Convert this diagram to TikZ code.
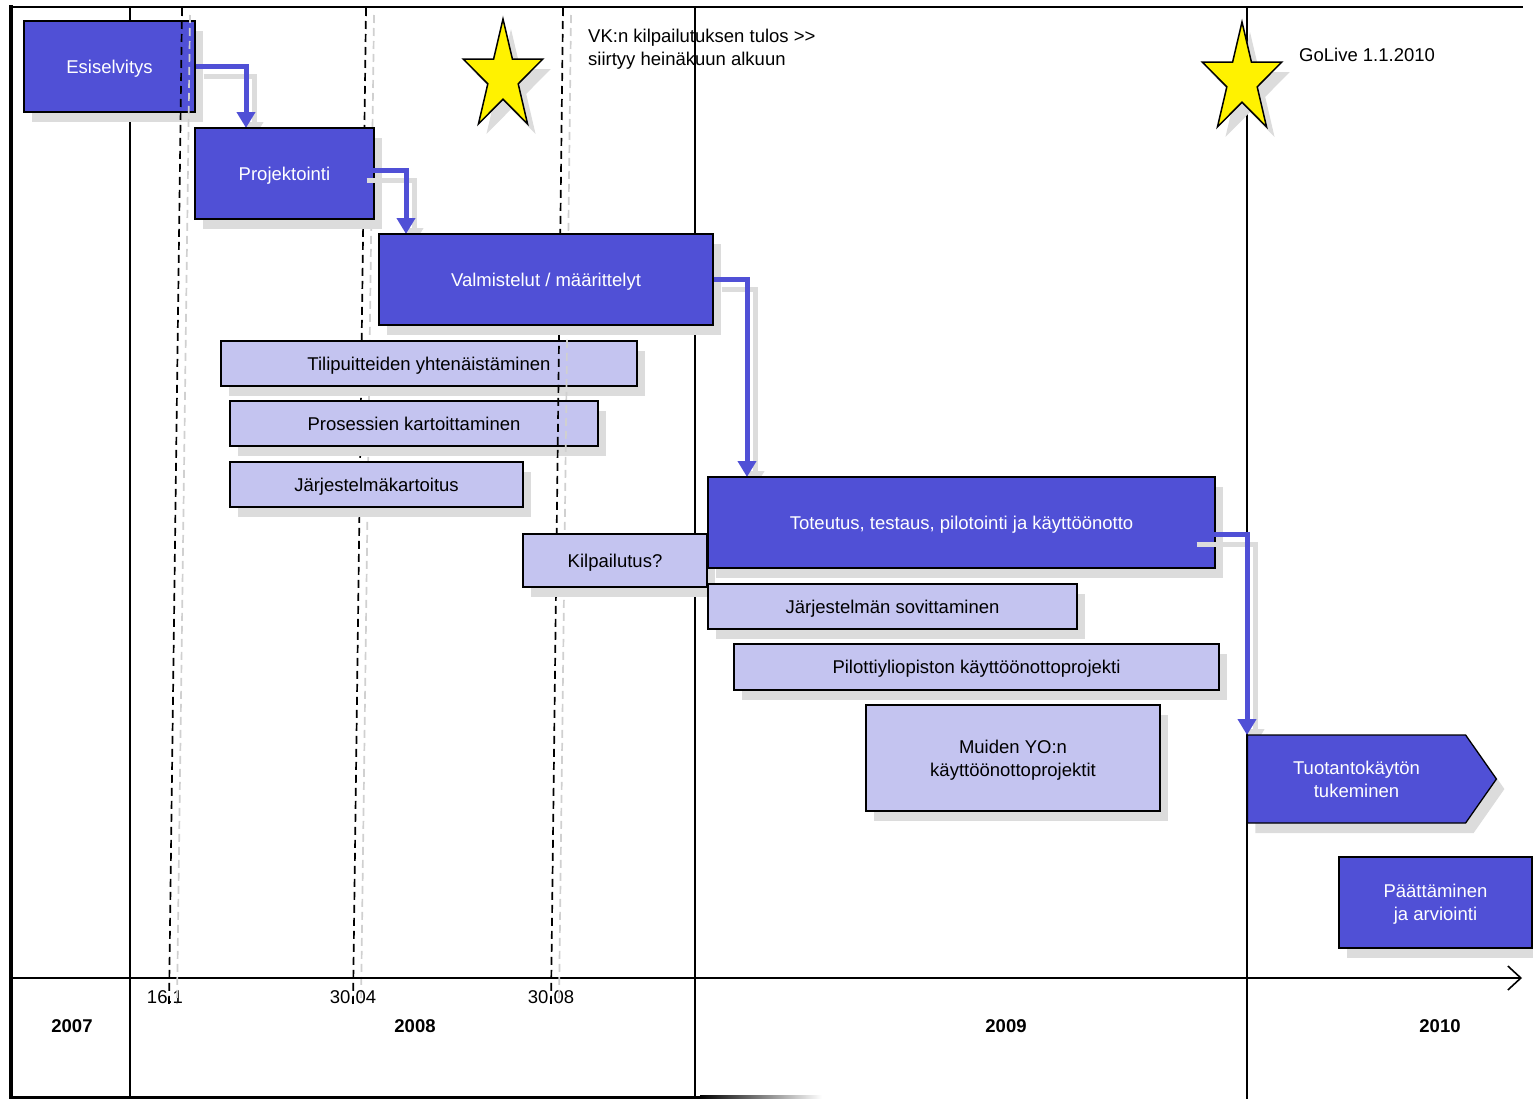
\documentclass[tikz,border=0pt]{standalone}
\usepackage{fontspec}
\setmainfont{Liberation Sans}
\usetikzlibrary{arrows.meta}
\usetikzlibrary{shapes.symbols}
\usetikzlibrary{shadows}
\usetikzlibrary{calc}

\definecolor{phase}{RGB}{80,80,214}
\definecolor{task}{RGB}{196,196,240}
\definecolor{shadowgray}{RGB}{220,220,220}
\definecolor{dashgray}{RGB}{208,208,208}

\pgfdeclarelayer{background}
\pgfsetlayers{background,main}

\tikzset{
  boxshadow/.style={drop shadow={shadow xshift=8pt, shadow yshift=-10pt, fill=shadowgray, opacity=1}},
  phasebox/.style={draw=black, line width=1.3pt, fill=phase, text=white, align=center, inner sep=0pt,
    text height=13.3pt, text depth=0pt, boxshadow},
  taskbox/.style={phasebox, fill=task, text=black},
  twolines/.style={text height=36.3pt, text depth=0pt},
  flow/.style={draw=phase, line width=5pt, line join=miter, -{Triangle[length=16pt,width=18pt]}},
  flowshade/.style={flow, draw=shadowgray, transform canvas={shift={(8pt,-10pt)}}},
  milestone/.style={black, line width=1.7pt, dash pattern=on 8pt off 5pt},
  milestoneshade/.style={dashgray, line width=1.7pt, dash pattern=on 8pt off 5pt},
  goalstar/.pic={
    \filldraw[fill=yellow, draw=black, line width=1.5pt, line join=miter, boxshadow]
      plot[samples at={0,...,9}, variable=\k]
      ({0.72*ifthenelse(mod(\k,2)==0,58,22.2)*cos(270+36*\k)},
       {ifthenelse(mod(\k,2)==0,58,22.2)*sin(270+36*\k)}) -- cycle;
  }
}

\begin{document}
\begin{tikzpicture}[x=1pt, y=-1pt, font=\fontsize{18.5}{23}\selectfont]
\useasboundingbox (0,0) rectangle (1533,1100);

%notes
\node[anchor=north west, align=left, inner sep=0pt] (vknote) at (588,29) {VK:n kilpailutuksen tulos >{}>\\siirtyy heinäkuun alkuun};
\node[anchor=west, inner sep=0pt] (golive) at (1299,55) {GoLive 1.1.2010};

\begin{pgfonlayer}{background}
%frame
\draw[line width=4.5pt] (11,5) -- (11,1099);
\draw[line width=2pt] (9,7) -- (1523,7);
\draw[line width=3pt] (11,1097) -- (700,1097);
\shade[left color=black, right color=white] (700,1095.5) rectangle (822,1098.5);

%year borders
\foreach \x in {130,695,1247} {
\draw[line width=1.6pt] (\x,7) -- (\x,1099);
}
\end{pgfonlayer}

%milestone 30.04
\draw[milestoneshade] (374,15) -- (361,1004);
\draw[milestone] (366,8) -- (353,1004);

%time axis
\draw[line width=2.5pt, -{Straight Barb[length=13pt,width=24pt,line width=1.6pt]}] (11,978) -- (1522,978);

%dates and years
\node (d161) at (165,997) {16.1};
\node (d3004) at (353,997) {30.04};
\node (d3008) at (551,997) {30.08};
\node[font=\fontsize{18.5}{23}\selectfont\bfseries] (y2007) at (72,1026) {2007};
\node[font=\fontsize{18.5}{23}\selectfont\bfseries] (y2008) at (415,1026) {2008};
\node[font=\fontsize{18.5}{23}\selectfont\bfseries] (y2009) at (1006,1026) {2009};
\node[font=\fontsize{18.5}{23}\selectfont\bfseries] (y2010) at (1440,1026) {2010};

%stars
\pic at (503,77) {goalstar};
\pic at (1242,80) {goalstar};

%first phase
\node[phasebox, minimum width=171, minimum height=91] (esi) at (109.5,66.5) {Esiselvitys};

%milestone 16.1
\draw[milestoneshade] (190,15) -- (177,1004);
\draw[milestone] (182,8) -- (169,1004);

%preparation tasks
\node[taskbox, minimum width=416, minimum height=45] (tili) at (429,363.5) {Tilipuitteiden yhtenäistäminen};
\node[taskbox, minimum width=368, minimum height=45] (pros) at (414,423.5) {Prosessien kartoittaminen};
\node[taskbox, minimum width=293, minimum height=45] (jark) at (376.5,484.5) {Järjestelmäkartoitus};

%milestone 30.08
\draw[milestoneshade] (571,15) -- (559,1004);
\draw[milestone] (563,8) -- (551,1004);

%phases
\coordinate (projin) at (246,128);
\draw[flowshade] (esi.east) -| (projin);
\draw[flow] (esi.east) -| (projin);
\node[phasebox, minimum width=179, minimum height=91] (proj) at (284.5,173.5) {Projektointi};

\coordinate (valmin) at (406,234);
\draw[flowshade] ([xshift=-16pt,yshift=3pt]proj.east) -| (valmin);
\draw[flow] ([xshift=-16pt,yshift=3pt]proj.east) -| (valmin);
\node[phasebox, minimum width=334, minimum height=91] (valm) at (546,279.5) {Valmistelut / määrittelyt};

\coordinate (totin) at (747,477);
\draw[flowshade] (valm.east) -| (totin);
\draw[flow] (valm.east) -| (totin);
\node[taskbox, minimum width=184, minimum height=53] (kilp) at (615,560.5) {Kilpailutus?};
\node[phasebox, minimum width=507, minimum height=91] (tot) at (961.5,522.5) {Toteutus, testaus, pilotointi ja käyttöönotto};

%deployment tasks
\node[taskbox, minimum width=369, minimum height=45] (sov) at (892.5,606.5) {Järjestelmän sovittaminen};
\node[taskbox, minimum width=485, minimum height=46] (pilot) at (976.5,667) {Pilottiyliopiston käyttöönottoprojekti};
\node[taskbox, twolines, minimum width=294, minimum height=106] (muut) at (1013,758) {Muiden YO:n\\käyttöönottoprojektit};

%support and closing
\coordinate (tukiin) at (1247,735);
\draw[flowshade] ([xshift=-27pt,yshift=-12pt]tot.east) -| (tukiin);
\draw[flow] ([xshift=-27pt,yshift=-12pt]tot.east) -| (tukiin);
\node[phasebox, twolines, signal, signal to=east, signal pointer angle=110, minimum width=249, minimum height=88] (tuki) at (1356.5,779) {Tuotantokäytön\\tukeminen};
\node[phasebox, twolines, minimum width=193, minimum height=91] (paat) at (1435.5,902.5) {Päättäminen\\ja arviointi};

\end{tikzpicture}
\end{document}
